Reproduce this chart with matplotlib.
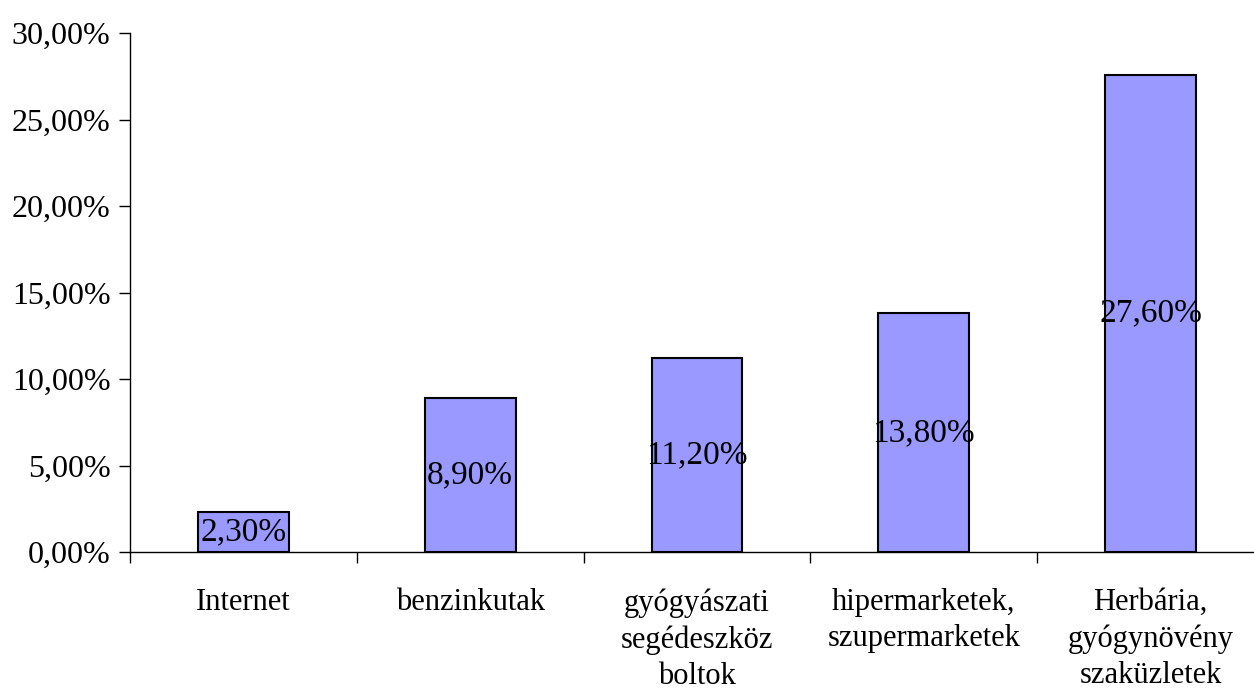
import matplotlib.pyplot as plt
from matplotlib.ticker import FuncFormatter, FixedLocator

categories = ['Internet', 'benzinkutak', 'gyógyászati\nsegédeszköz\nboltok',
              'hipermarketek,\nszupermarketek', 'Herbária,\ngyógynövény\nszaküzletek']
values = [2.30, 8.90, 11.20, 13.80, 27.60]

plt.rcParams['font.family'] = ['Liberation Serif', 'DejaVu Serif']

fig = plt.figure(figsize=(12.54, 6.93), dpi=100)
ax = fig.add_axes([130 / 1254, 1 - 552 / 693, (1264 - 130) / 1254, (552 - 33) / 693])

x = list(range(len(categories)))
bars = ax.bar(x, values, width=0.4, color='#9999FF', edgecolor='black', linewidth=1.5)

for xi, v in zip(x, values):
    ax.text(xi, v / 2, '{:.2f}%'.format(v).replace('.', ','), ha='center', va='center',
            fontsize=24, color='black')

ax.set_xlim(-0.5, 4.5)
ax.set_ylim(0, 30)
ax.set_yticks([0, 5, 10, 15, 20, 25, 30])
ax.yaxis.set_major_formatter(FuncFormatter(lambda v, p: '{:.2f}%'.format(v).replace('.', ',')))
ax.set_xticks(x)
ax.set_xticklabels(categories, fontsize=22, linespacing=1.33)
ax.xaxis.set_minor_locator(FixedLocator([-0.5, 0.5, 1.5, 2.5, 3.5]))
ax.tick_params(axis='x', which='major', length=0, pad=26)
ax.tick_params(axis='x', which='minor', length=8, width=1, direction='out')
ax.tick_params(axis='y', labelsize=23, length=8, width=1, direction='out', pad=6)

ax.spines['top'].set_visible(False)
ax.spines['right'].set_visible(False)
ax.spines['left'].set_linewidth(1)
ax.spines['bottom'].set_linewidth(1)

fig.savefig('out.png', dpi=100)
